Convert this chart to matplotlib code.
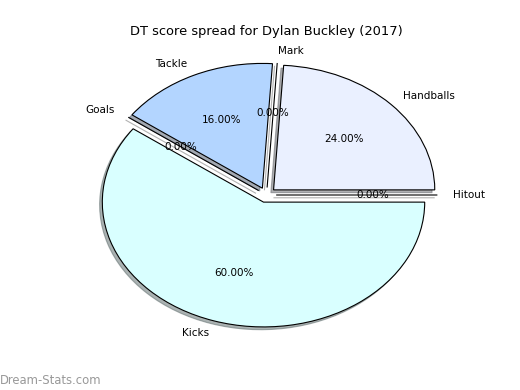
import matplotlib
matplotlib.use("Agg")
import matplotlib.pyplot as plt

labels = ["Handballs", "Mark", "Tackle", "Goals", "Kicks", "Hitout"]
values = [24, 0, 16, 0, 60, 0]
colors = ["#eaf0ff", "#ffffff", "#b3d5ff", "#ffffff", "#d9ffff", "#ffffff"]
explode = [0.06] * len(values)

fig = plt.figure(figsize=(5.2, 3.9), dpi=100)
ax = fig.add_axes([0.125, 0.1, 0.775, 0.8])

wedges, texts, autotexts = ax.pie(values, labels=labels, colors=colors, explode=explode,
                                  autopct="%1.2f%%", startangle=0,
                                  shadow={"ox": -0.012, "oy": -0.016, "shade": 0.6},
                                  labeldistance=1.1, pctdistance=0.6,
                                  wedgeprops={"edgecolor": "black", "linewidth": 0.8},
                                  textprops={"fontsize": 7.5})
ax.set_aspect("auto")
ax.set_xlim(-1.25, 1.25)
ax.set_ylim(-1.25, 1.25)
ax.axis("off")
ax.set_title("DT score spread for Dylan Buckley (2017)", fontsize=9.4, pad=3)

fig.text(0.0, 0.015, "Dream-Stats.com", color="#999999", fontsize=8.4)

fig.savefig("out.png", dpi=100)
